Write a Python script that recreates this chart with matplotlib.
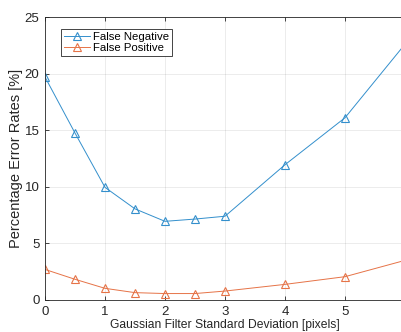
import numpy as np
import matplotlib.pyplot as plt

plt.rcParams['font.family'] = ['Liberation Sans', 'DejaVu Sans']

sigma = [0, 0.5, 1, 1.5, 2, 2.5, 3, 4, 5, 6]
false_neg = [19.7, 14.75, 9.95, 8.05, 6.95, 7.15, 7.4, 11.95, 16.1, 22.6]
false_pos = [2.7, 1.83, 1.03, 0.65, 0.57, 0.57, 0.79, 1.38, 2.06, 3.5]

blue = (0.2, 0.56, 0.8)
orange = (0.9, 0.45, 0.28)
dark = (0.15, 0.15, 0.15)

fig = plt.figure(figsize=(4.01, 3.32), dpi=100)
ax = fig.add_axes([45/401, 32/332, 360/401, 283/332])

ax.plot(sigma, false_neg, color=blue, lw=0.7, marker='^', ms=5.5, mfc='none',
        mew=0.8, label='False Negative')
ax.plot(sigma, false_pos, color=orange, lw=0.7, marker='^', ms=5.5, mfc='none',
        mew=0.8, label='False Positive')

ax.set_xlim(0, 6)
ax.set_ylim(0, 25)
ax.set_xticks([0, 1, 2, 3, 4, 5])
ax.set_yticks([0, 5, 10, 15, 20, 25])
ax.grid(True, color=dark, alpha=0.1, lw=0.6)
ax.tick_params(direction='in', length=3, width=0.6, labelsize=9.5,
               colors=dark, top=True, right=True, pad=4)
for s in ax.spines.values():
    s.set_color(dark)
    s.set_linewidth(0.6)

ax.set_xlabel('Gaussian Filter Standard Deviation [pixels]', fontsize=8.7,
              color=dark, labelpad=1)
ax.set_ylabel('Percentage Error Rates [%]', fontsize=10.5, color=dark,
              labelpad=1)

leg = ax.legend(loc='upper left', bbox_to_anchor=(0.044, 0.958), fontsize=8.2,
                fancybox=False, framealpha=1, edgecolor=dark,
                handlelength=2.3, handletextpad=0.25, borderpad=0.25,
                labelspacing=0.1, borderaxespad=0)
leg.get_frame().set_linewidth(0.6)

fig.savefig('out.png', dpi=100)
